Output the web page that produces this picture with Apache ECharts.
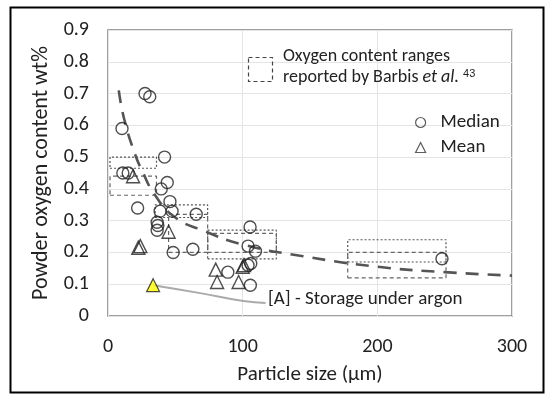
<!DOCTYPE html>
<html><head><meta charset="utf-8">
<script src="https://cdn.jsdelivr.net/npm/echarts@6/dist/echarts.min.js"></script>
<style>html,body{margin:0;padding:0;background:#fff}#c{width:550px;height:399px}</style>
</head><body><div id="c"></div>
<script>
// ---- data ----
const xTicks = [0, 100, 200, 300];
const yTicks = [0, 0.1, 0.2, 0.3, 0.4, 0.5, 0.6, 0.7, 0.8, 0.9];
const medianPts = [
  [10.4,0.59],[27.5,0.70],[31,0.69],[11,0.45],[15,0.45],
  [42,0.50],[44,0.42],[39.5,0.40],[22,0.34],[38.7,0.33],[47.6,0.33],[46,0.36],
  [36.5,0.295],[37,0.285],[36.5,0.27],[48.4,0.20],[63,0.21],[65.5,0.32],
  [89,0.138],[105.5,0.28],[104,0.22],[109.5,0.204],[104,0.16],[106,0.165],[105.7,0.097],[248,0.18]
];
const meanPts = [
  [18.6,0.44],[24,0.22],[22.5,0.215],[45,0.265],
  [80,0.146],[81,0.107],[97,0.107],[100,0.155],[101,0.16]
];
const argonPt = [[33.5,0.097]];
const argonLeader = [[33.5,0.097],[68.5,0.072],[100.5,0.047],[117,0.041]];
const trendPts = [[8,0.71],[12,0.62],[20,0.51],[25,0.46],[35,0.38],[50,0.31],[70,0.27],[100,0.225],[145,0.188],[200,0.155],[250,0.138],[300,0.127]];
// Barbis et al. ranges: [xMin, xMax, yMin, yMax]
const rangesDotted = [[1.5,36,0.465,0.50],[35,74,0.31,0.35],[74,125,0.18,0.27],[178,251,0.17,0.24]];
const rangesDashed = [[1.5,36,0.38,0.44],[45,74,0.20,0.32],[74,125,0.20,0.26],[178,251,0.12,0.20]];

function boxPath(b){ return [[b[0],b[2]],[b[1],b[2]],[b[1],b[3]],[b[0],b[3]],[b[0],b[2]]]; }
const FONT = 'Carlito, Lato, "Liberation Sans", sans-serif';

const series = [];
rangesDotted.forEach((b,i)=>series.push({type:'line',name:'rd'+i,data:boxPath(b),symbol:'none',silent:true,z:1,
  lineStyle:{color:'#555',width:1.2,type:[2,2]}}));
rangesDashed.forEach((b,i)=>series.push({type:'line',name:'rs'+i,data:boxPath(b),symbol:'none',silent:true,z:1,
  lineStyle:{color:'#666',width:1.2,type:[4,3]}}));
series.push({type:'line',name:'trend',data:trendPts,symbol:'none',smooth:true,z:2,
  lineStyle:{color:'#555',width:2.6,type:[13,9]}});
series.push({type:'line',name:'leader',data:argonLeader,symbol:'none',smooth:true,z:2,
  lineStyle:{color:'#aaa',width:2}});
series.push({type:'scatter',name:'Median',data:medianPts,symbol:'circle',symbolSize:12,z:5,
  itemStyle:{color:'rgba(255,255,255,0)',borderColor:'#222',borderWidth:1.4}});
series.push({type:'scatter',name:'Mean',data:meanPts,symbol:'triangle',symbolSize:13,z:5,
  itemStyle:{color:'rgba(255,255,255,0)',borderColor:'#222',borderWidth:1.4}});
series.push({type:'scatter',name:'argon',data:argonPt,symbol:'triangle',symbolSize:13,z:6,
  itemStyle:{color:'#ffff00',borderColor:'#222',borderWidth:1.2}});

const chart = echarts.init(document.getElementById('c'),null,{renderer:'canvas'});
chart.setOption({
  animation:false,
  backgroundColor:'#fff',
  grid:{left:108,right:38,top:30,bottom:83,show:true,borderColor:'#808080',borderWidth:1.5},
  xAxis:{type:'value',min:xTicks[0],max:xTicks[xTicks.length-1],interval:100,
    name:'Particle size (µm)',nameLocation:'middle',nameGap:48,
    nameTextStyle:{fontFamily:FONT,fontSize:21,color:'#222'},
    axisLine:{show:false},axisTick:{show:false},
    axisLabel:{fontFamily:FONT,fontSize:20,color:'#222',margin:21},
    splitLine:{lineStyle:{color:'#e4e4e4',width:1}}},
  yAxis:{type:'value',min:yTicks[0],max:yTicks[yTicks.length-1],interval:0.1,
    name:'Powder oxygen content wt%',nameLocation:'middle',nameGap:54,
    nameTextStyle:{fontFamily:FONT,fontSize:22,color:'#222'},
    axisLine:{show:false},axisTick:{show:false},
    axisLabel:{fontFamily:FONT,fontSize:20,color:'#222',margin:19,formatter:v=>String(Math.round(v*10)/10)},
    splitLine:{lineStyle:{color:'#e4e4e4',width:1}}},
  legend:{orient:'vertical',left:410,top:108,itemGap:6,itemWidth:10,itemHeight:10,
    data:[{name:'Median',icon:'circle'},{name:'Mean',icon:'triangle'}],
    itemStyle:{color:'rgba(255,255,255,0)',borderColor:'#333',borderWidth:1.2},
    textStyle:{fontFamily:FONT,fontSize:19,color:'#222',padding:[0,0,0,10]}},
  graphic:[
    {type:'rect',left:8,top:5,shape:{width:533,height:385},style:{fill:'none',stroke:'#000',lineWidth:2},silent:true,z:-1},
    {type:'rect',left:246,top:55,shape:{width:24,height:24},style:{fill:'none',stroke:'#444',lineWidth:1.2,lineDash:[4,3]},z:10},
    {type:'text',left:283,top:47,z:10,style:{text:'Oxygen content ranges',font:'18px '+FONT,fill:'#222'}},
    {type:'text',left:283,top:68,z:10,style:{
      text:'reported by Barbis {i|et al.} {s|43}',font:'18px '+FONT,fill:'#222',
      rich:{i:{fontStyle:'italic',font:'italic 18px '+FONT,fill:'#222'},s:{fontSize:11,verticalAlign:'top',fill:'#222',padding:[0,0,7,0]}}}},
    {type:'text',left:268,top:290,z:10,style:{text:'[A] - Storage under argon',font:'19px '+FONT,fill:'#222'}}
  ],
  series:series
});
</script></body></html>
